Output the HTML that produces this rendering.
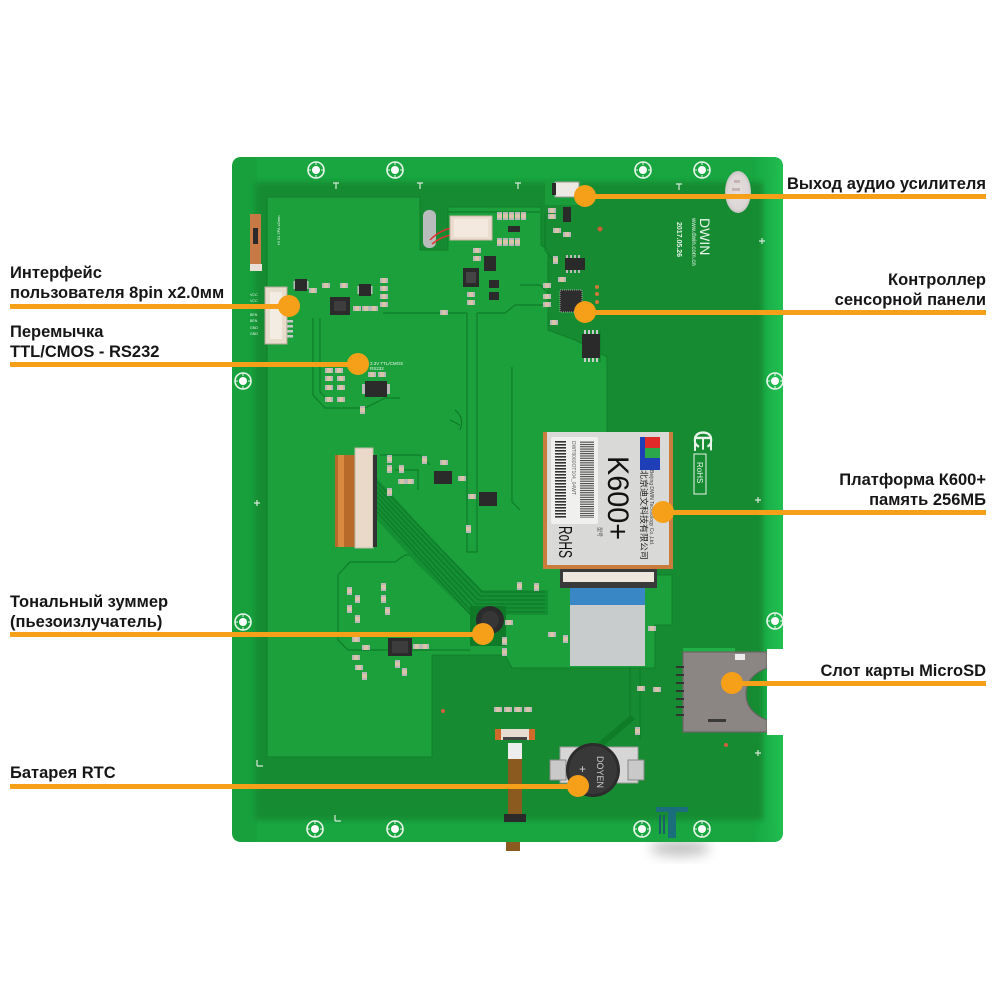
<!DOCTYPE html>
<html><head><meta charset="utf-8"><style>
html,body{margin:0;padding:0;background:#fff}
svg{display:block}
.lbl{font-family:"Liberation Sans",Arial,sans-serif;font-weight:bold;font-size:16.5px;fill:#161616}
.silk{font-family:"Liberation Sans",sans-serif;fill:#e8f4ea}
</style></head><body>
<svg width="1000" height="1000" viewBox="0 0 1000 1000" xmlns="http://www.w3.org/2000/svg">
<defs>
 <filter id="b3" x="-10%" y="-10%" width="120%" height="120%"><feGaussianBlur stdDeviation="3"/></filter>
 <filter id="b6" x="-50%" y="-50%" width="200%" height="200%"><feGaussianBlur stdDeviation="6"/></filter>
 <clipPath id="bc"><path d="M242,157 H773 Q783,157 783,167 V649 H767 V735 H783 V832 Q783,842 773,842 H242 Q232,842 232,832 V167 Q232,157 242,157 Z"/></clipPath>
 <linearGradient id="rg" x1="0" x2="1" y1="0" y2="0"><stop offset="0" stop-color="#18a843"/><stop offset="1" stop-color="#23c455"/></linearGradient>
 <radialGradient id="spk" cx="0.5" cy="0.5" r="0.5"><stop offset="0" stop-color="#e4dede"/><stop offset="0.8" stop-color="#dcd6d6"/><stop offset="1" stop-color="#c9c4c4"/></radialGradient>
 <pattern id="bar" width="4" height="3" patternUnits="userSpaceOnUse"><rect width="4" height="1.6" fill="#333"/></pattern>
 <pattern id="bar2" width="4" height="2.3" patternUnits="userSpaceOnUse"><rect width="4" height="1.1" fill="#444"/></pattern>
 <g id="r"><rect width="5" height="8" fill="#d9c4ab"/><rect width="5" height="2" fill="#b8b8b8"/><rect y="6" width="5" height="2" fill="#b8b8b8"/></g>
 <g id="h"><rect width="8" height="5" fill="#d9c4ab"/><rect width="2" height="5" fill="#b8b8b8"/><rect x="6" width="2" height="5" fill="#b8b8b8"/></g>
 <g id="ic"><rect width="12" height="12" fill="#2a2a2a"/><rect x="-1.5" y="2" width="1.5" height="8" fill="#bbb"/><rect x="12" y="2" width="1.5" height="8" fill="#bbb"/></g>
 <g id="hole"><circle r="8" fill="none" stroke="#eaf6ec" stroke-width="1.6"/><circle r="4" fill="#ffffff"/><path d="M0,-8 V-5 M0,5 V8 M-8,0 H-5 M5,0 H8" stroke="#eaf6ec" stroke-width="1"/></g>
</defs>
<rect width="1000" height="1000" fill="#fff"/>
<ellipse cx="680" cy="848" rx="30" ry="8" fill="#777" opacity="0.45" filter="url(#b6)"/>

<!-- board -->
<path d="M242,157 H773 Q783,157 783,167 V649 H767 V735 H783 V832 Q783,842 773,842 H242 Q232,842 232,832 V167 Q232,157 242,157 Z" fill="#19a640"/>
<g clip-path="url(#bc)">
 <rect x="755" y="150" width="35" height="700" fill="url(#rg)"/>
 <rect x="232" y="150" width="25" height="700" fill="#17a03c"/>
 <rect x="255" y="182" width="508" height="638" fill="#128b31" filter="url(#b3)"/>
 <!-- pour -->
 <path d="M267,197 H420 V250 H448 V207 H541 V245 L548,250 V330 L575,340 L607,357 V575 H672 V625 H655 V668 H512 L505,655 H432 V757 H267 Z" fill="#1ca03c" stroke="#0f7f29" stroke-width="1"/>
 <path d="M545,182 H582 V205 H545 Z" fill="#1a9c3a"/>
 <!-- dark outlines / traces -->
 <g fill="none" stroke="#0f7d28" stroke-width="1.2">
  <path d="M313,318 V395 L325,408 H365 L385,398 H400"/>
  <path d="M320,318 V392 L330,402"/>
  <path d="M448,212 H540"/>
  <path d="M383,313 H467 M477,313 H505 L515,305 H545"/>
  <path d="M467,313 V552 H477 V313"/>
  <path d="M512,367 V502 L520,510"/>
  <path d="M550,210 L545,215 V250 L555,262 M600,330 V362"/>
  <path d="M338,575 L350,562 H395 L405,555 H440 M338,575 V640 L348,650 H470"/>
  <path d="M630,667 V717 L603,742 M640,667 V740"/>
  <path d="M380,455 H420 L430,465 M395,470 H418 V490"/>
  <path d="M520,285 H540 L548,293"/>
 </g>
 <!-- diagonal trace bundle -->
 <path d="M377,478 L433,540 L482,590 H548 V615 H470 L418,565 L377,520 Z" fill="#158f33"/>
 <g stroke="#0e7526" stroke-width="0.9" fill="none">
  <path d="M377,482 L482,592 H545"/><path d="M377,487 L480,596 H545"/><path d="M377,492 L478,600 H545"/>
  <path d="M377,497 L476,604 H545"/><path d="M377,502 L474,608 H545"/><path d="M377,507 L472,612 H545"/>
  <path d="M377,512 L470,614"/>
 </g>
 <!-- left jumper + connector -->
 <rect x="250" y="214" width="11" height="52" fill="#c77a45"/>
 <rect x="253" y="228" width="5" height="16" fill="#2a2a2a"/>
 <rect x="250" y="264" width="12" height="7" fill="#e8e0d8"/>
 <rect x="265" y="287" width="22" height="57" fill="#e8dccd" stroke="#b8a896" stroke-width="1"/>
 <rect x="270" y="292" width="12" height="47" fill="#f2ece3"/>
 <g fill="#c8c8c8"><rect x="287" y="320" width="6" height="2.5"/><rect x="287" y="325" width="6" height="2.5"/><rect x="287" y="330" width="6" height="2.5"/><rect x="287" y="335" width="6" height="2.5"/></g>
 <g class="silk" font-size="3.6"><text x="250" y="296">VCC</text><text x="250" y="302">VCC</text><text x="250" y="309">BOUT</text><text x="250" y="316">BEN</text><text x="250" y="322">BEN</text><text x="250" y="329">GND</text><text x="250" y="335">GND</text></g>
 <text class="silk" font-size="4" transform="translate(280,245) rotate(-90)">Hi 01 2PA x2mm</text>
 <!-- interface area parts -->
 <use href="#ic" x="295" y="279"/>
 <use href="#h" x="309" y="288"/><use href="#h" x="322" y="283"/><use href="#h" x="340" y="283"/>
 <rect x="330" y="297" width="20" height="18" fill="#2b2b2b"/><rect x="334" y="301" width="12" height="10" fill="#3d3d3d"/>
 <use href="#ic" x="359" y="284"/>
 <use href="#h" x="380" y="278"/><use href="#h" x="380" y="286"/><use href="#h" x="380" y="294"/><use href="#h" x="380" y="302"/>
 <use href="#h" x="353" y="306"/><use href="#h" x="362" y="306"/><use href="#h" x="370" y="306"/>
 <!-- jumper area -->
 <use href="#h" x="325" y="368"/><use href="#h" x="335" y="368"/><use href="#h" x="325" y="376"/><use href="#h" x="337" y="376"/>
 <use href="#h" x="325" y="385"/><use href="#h" x="337" y="385"/><use href="#h" x="325" y="397"/><use href="#h" x="337" y="397"/>
 <use href="#h" x="368" y="372"/><use href="#h" x="378" y="372"/>
 <rect x="365" y="381" width="22" height="16" fill="#2b2b2b"/><rect x="362" y="384" width="3" height="10" fill="#bbb"/><rect x="387" y="384" width="3" height="10" fill="#bbb"/>
 <use href="#r" x="360" y="406"/>
 <text class="silk" font-size="4.5" x="370" y="365">3.3V TTL/CMOS</text>
 <text class="silk" font-size="4.5" x="370" y="370">RS232</text>
 <!-- logo mark -->
 <path d="M455,410 q10,8 5,20 M450,420 l10,5" stroke="#0e7a28" stroke-width="1.2" fill="none"/>
 <!-- top middle -->
 <rect x="423" y="210" width="13" height="38" rx="6" fill="#b9bcbd"/>
 <path d="M430,240 q10,-10 22,-12 M432,244 q10,-8 20,-9" stroke="#e03030" stroke-width="1.5" fill="none"/>
 <rect x="450" y="216" width="42" height="24" fill="#ecdccf" stroke="#c9b5a4"/>
 <rect x="454" y="219" width="34" height="18" fill="#f3e9df"/>
 <g><use href="#r" x="497" y="212"/><use href="#r" x="503" y="212"/><use href="#r" x="509" y="212"/><use href="#r" x="515" y="212"/><use href="#r" x="521" y="212"/></g>
 <rect x="508" y="226" width="12" height="6" fill="#2a2a2a"/>
 <g><use href="#r" x="497" y="238"/><use href="#r" x="503" y="238"/><use href="#r" x="509" y="238"/><use href="#r" x="515" y="238"/></g>
 <use href="#h" x="473" y="248"/><use href="#h" x="473" y="256"/>
 <rect x="463" y="268" width="16" height="19" fill="#2a2a2a"/><rect x="466" y="272" width="10" height="11" fill="#444"/>
 <rect x="484" y="256" width="12" height="15" fill="#2a2a2a"/>
 <rect x="489" y="280" width="10" height="8" fill="#2a2a2a"/><rect x="489" y="292" width="10" height="8" fill="#2a2a2a"/>
 <use href="#h" x="467" y="292"/><use href="#h" x="467" y="300"/><use href="#h" x="440" y="310"/>
 <!-- audio / touch area -->
 <rect x="555" y="182" width="24" height="15" fill="#ece8e3" stroke="#999"/>
 <rect x="552" y="183" width="4" height="12" fill="#2a2a2a"/>
 <use href="#h" x="548" y="208"/><use href="#h" x="548" y="214"/><rect x="563" y="207" width="8" height="15" fill="#2a2a2a"/>
 <use href="#h" x="553" y="228"/><use href="#h" x="563" y="232"/>
 <use href="#r" x="553" y="256"/>
 <rect x="565" y="258" width="20" height="12" fill="#2a2a2a"/>
 <g fill="#bbb"><rect x="566" y="255" width="2" height="3"/><rect x="570" y="255" width="2" height="3"/><rect x="574" y="255" width="2" height="3"/><rect x="578" y="255" width="2" height="3"/><rect x="566" y="270" width="2" height="3"/><rect x="570" y="270" width="2" height="3"/><rect x="574" y="270" width="2" height="3"/><rect x="578" y="270" width="2" height="3"/></g>
 <use href="#h" x="558" y="277"/><use href="#h" x="543" y="283"/>
 <use href="#h" x="543" y="294"/><use href="#h" x="543" y="302"/>
 <rect x="560" y="290" width="22" height="22" fill="#2d2d2d" stroke="#aaa" stroke-width="1" stroke-dasharray="1 1"/>
 <circle cx="597" cy="287" r="2" fill="#d07a3a"/><circle cx="597" cy="294" r="2" fill="#d07a3a"/><circle cx="597" cy="302" r="2" fill="#d07a3a"/>
 <use href="#h" x="550" y="320"/>
 <rect x="582" y="334" width="18" height="24" fill="#2a2a2a"/>
 <g fill="#ccc"><rect x="584" y="358" width="2" height="4"/><rect x="588" y="358" width="2" height="4"/><rect x="592" y="358" width="2" height="4"/><rect x="596" y="358" width="2" height="4"/><rect x="584" y="330" width="2" height="4"/><rect x="588" y="330" width="2" height="4"/><rect x="592" y="330" width="2" height="4"/><rect x="596" y="330" width="2" height="4"/></g>
 <circle cx="600" cy="229" r="2.5" fill="#c8602f"/>
 <!-- right side silk -->
 <ellipse cx="738" cy="192" rx="13" ry="21" fill="url(#spk)"/>
 <g fill="#b59a9a" opacity="0.6"><rect x="734" y="180" width="6" height="3"/><rect x="732" y="188" width="8" height="3"/><rect x="735" y="196" width="6" height="3"/></g>
 <text class="silk" font-size="14" transform="translate(700,218) rotate(90)">DWIN</text>
 <text class="silk" font-size="6" transform="translate(692,218) rotate(90)">www.dwin.com.cn</text>
 <text class="silk" font-size="7" font-weight="bold" transform="translate(677,222) rotate(90)">2017.05.26</text>
 <text class="silk" font-size="26" textLength="22" transform="translate(694,430) rotate(90)">CE</text>
 <rect x="694" y="454" width="12" height="40" fill="none" stroke="#e8f4ea" stroke-width="1"/>
 <text class="silk" font-size="8" transform="translate(697,462) rotate(90)">RoHS</text>
 <!-- left FPC -->
 <rect x="335" y="455" width="22" height="92" fill="#b86a2a"/>
 <rect x="338" y="455" width="6" height="92" fill="#d98a40"/>
 <rect x="355" y="448" width="18" height="100" fill="#ead9c8" stroke="#bba"/>
 <rect x="373" y="455" width="4" height="92" fill="#333"/>
 <!-- parts near FPC -->
 <use href="#r" x="387" y="455"/><use href="#r" x="387" y="465"/><use href="#r" x="399" y="465"/>
 <use href="#h" x="398" y="479"/><use href="#h" x="406" y="479"/><use href="#r" x="387" y="488"/><use href="#r" x="422" y="456"/>
 <rect x="434" y="471" width="18" height="13" fill="#2a2a2a"/><use href="#h" x="440" y="460"/><use href="#h" x="458" y="476"/>
 <rect x="479" y="492" width="18" height="14" fill="#2a2a2a"/><use href="#h" x="468" y="494"/><use href="#r" x="466" y="525"/>
 <!-- buzzer area -->
 <use href="#r" x="347" y="587"/><use href="#r" x="355" y="595"/><use href="#r" x="347" y="605"/><use href="#r" x="355" y="615"/>
 <use href="#r" x="381" y="583"/><use href="#r" x="381" y="595"/><use href="#r" x="385" y="607"/>
 <use href="#h" x="352" y="637"/><use href="#h" x="362" y="645"/><use href="#h" x="352" y="655"/><use href="#h" x="355" y="665"/>
 <rect x="388" y="638" width="24" height="18" fill="#2a2a2a"/><rect x="392" y="641" width="16" height="12" fill="#3c3c3c"/>
 <use href="#h" x="413" y="644"/><use href="#h" x="421" y="644"/>
 <use href="#r" x="395" y="660"/><use href="#r" x="402" y="668"/><use href="#r" x="362" y="672"/>
 <rect x="470" y="606" width="36" height="40" fill="#0f7a28"/>
 <circle cx="490" cy="620" r="14" fill="#2b2b2b"/><circle cx="490" cy="620" r="9" fill="#363636"/>
 <use href="#h" x="505" y="620"/><use href="#r" x="502" y="637"/><use href="#r" x="502" y="648"/>
 <use href="#r" x="517" y="582"/><use href="#r" x="534" y="583"/>
 <!-- ribbon / FPC to module -->
 <rect x="560" y="569" width="97" height="19" fill="#3a3a3a"/>
 <rect x="563" y="572" width="91" height="10" fill="#efe6dc"/>
 <rect x="570" y="588" width="75" height="17" fill="#3a87c6"/>
 <rect x="570" y="605" width="75" height="61" fill="#c9cccc"/>
 <use href="#h" x="548" y="632"/><use href="#r" x="563" y="635"/><use href="#h" x="648" y="626"/>
 <use href="#h" x="637" y="686"/><use href="#h" x="653" y="687"/><use href="#r" x="635" y="727"/>
 <path d="M633,717 L600,745" stroke="#0f7d28" stroke-width="6"/>
 <!-- K600 module -->
 <rect x="543" y="432" width="130" height="137" fill="#c97c3c"/>
 <rect x="547" y="432" width="122" height="133" fill="#d9d9d7"/>
 <rect x="551" y="437" width="47" height="87" rx="2" fill="#f0f0ee"/>
 <rect x="555" y="441" width="11" height="77" fill="url(#bar)"/>
 <rect x="580" y="441" width="14" height="77" fill="url(#bar2)"/>
 <text font-family="Liberation Sans,sans-serif" font-size="5" fill="#666" transform="translate(572,441) rotate(90)">DWT8060OT104_04WT</text>
 <text font-family="Liberation Sans,sans-serif" font-size="30" fill="#111" textLength="84" lengthAdjust="spacingAndGlyphs" transform="translate(608,456) rotate(90)">K600+</text>
 <text font-family="Liberation Sans,sans-serif" font-size="18" fill="#111" textLength="32" lengthAdjust="spacingAndGlyphs" transform="translate(559,526) rotate(90)">RoHS</text>
 <rect x="640" y="437" width="20" height="33" fill="#1e3fb8"/>
 <rect x="645" y="437" width="15" height="11" fill="#e02a2a"/><rect x="645" y="448" width="15" height="10" fill="#2aa84a"/>
 <text font-family="Liberation Sans,'Noto Sans CJK SC',sans-serif" font-size="8.5" fill="#222" textLength="90" lengthAdjust="spacingAndGlyphs" transform="translate(641,470) rotate(90)">北京迪文科技有限公司</text>
 <text font-family="Liberation Sans,sans-serif" font-size="5" fill="#444" transform="translate(650,470) rotate(90)">Beijing DWIN Technology Co.,Ltd.</text>
 <text font-family="Liberation Sans,'Noto Sans CJK SC',sans-serif" font-size="5" fill="#444" transform="translate(598,527) rotate(90)">型号</text>
 <!-- SD card slot -->
 <rect x="683" y="648" width="52" height="5" fill="#1fb047"/>
 <path d="M683,652 H767 V668 Q746,676 746,694 Q746,712 767,720 V732 H683 Z" fill="#8b8683" stroke="#6a6663" stroke-width="1.2"/>
 <rect x="735" y="654" width="10" height="6" fill="#ececec"/>
 <rect x="708" y="719" width="18" height="3" fill="#3a3a3a"/>
 <g fill="#333"><rect x="676" y="666" width="8" height="2"/><rect x="676" y="674" width="8" height="2"/><rect x="676" y="682" width="8" height="2"/><rect x="676" y="690" width="8" height="2"/><rect x="676" y="698" width="8" height="2"/><rect x="676" y="706" width="8" height="2"/><rect x="676" y="714" width="8" height="2"/></g>
 <!-- bottom small connector + flex -->
 <g><use href="#h" x="494" y="707"/><use href="#h" x="504" y="707"/><use href="#h" x="514" y="707"/><use href="#h" x="524" y="707"/></g>
 <rect x="495" y="729" width="40" height="11" fill="#e8ddd2"/><rect x="495" y="729" width="6" height="11" fill="#d06a2a"/><rect x="529" y="729" width="6" height="11" fill="#d06a2a"/>
 <rect x="503" y="737" width="24" height="3" fill="#444"/>
 <rect x="508" y="743" width="14" height="16" fill="#ededed"/>
 <rect x="508" y="759" width="14" height="56" fill="#8a5a1e"/>
 <rect x="504" y="814" width="22" height="8" fill="#2a2a2a"/>
 <!-- battery -->
 <path d="M594,748 V762" stroke="#0f7d28" stroke-width="1"/>
 <rect x="560" y="747" width="78" height="36" fill="#d6d6d6" stroke="#999"/>
 <rect x="550" y="760" width="16" height="20" fill="#c9c9c9" stroke="#888"/>
 <rect x="628" y="760" width="16" height="20" fill="#c9c9c9" stroke="#888"/>
 <circle cx="593" cy="770" r="27" fill="#2c2c2c"/>
 <circle cx="593" cy="770" r="24" fill="#383838"/>
 <text font-family="Liberation Sans,sans-serif" font-size="9" fill="#ccc" transform="translate(597,756) rotate(90)">DOYEN</text>
 <text font-family="Liberation Sans,sans-serif" font-size="12" fill="#ccc" x="579" y="773">+</text>
 <!-- teal logo -->
 <path d="M656,807 H688 V812 H676 V838 H668 V812 H656 Z" fill="#1b6f7d"/>
 <path d="M660,815 V834 M664,815 V834" stroke="#1b5f6a" stroke-width="2"/>
 <circle cx="726" cy="745" r="2" fill="#d0603a"/><circle cx="443" cy="711" r="2" fill="#d0603a"/>
 <!-- mount holes -->
 <use href="#hole" x="316" y="170"/><use href="#hole" x="395" y="170"/><use href="#hole" x="643" y="170"/><use href="#hole" x="702" y="170"/>
 <use href="#hole" x="243" y="381"/><use href="#hole" x="243" y="622"/>
 <use href="#hole" x="315" y="829"/><use href="#hole" x="395" y="829"/><use href="#hole" x="642" y="829"/><use href="#hole" x="702" y="829"/>
 <use href="#hole" x="775" y="381"/><use href="#hole" x="775" y="621"/>
 <!-- fiducial T marks -->
 <g stroke="#d8e8da" stroke-width="1.2" fill="none">
  <path d="M333,183 h6 M336,183 v6"/><path d="M417,183 h6 M420,183 v6"/><path d="M515,183 h6 M518,183 v6"/><path d="M676,184 h6 M679,184 v6"/>
  <path d="M762,238 v6 M759,241 h6"/><path d="M257,500 v6 M254,503 h6"/><path d="M257,760 v6 M257,766 h6"/><path d="M335,815 v6 M335,821 h6"/><path d="M758,750 v6 M755,753 h6"/><path d="M758,497 v6 M755,500 h6"/>
 </g>
</g>
<rect x="506" y="842" width="14" height="9" fill="#8a5a1e"/>

<!-- callout lines -->
<g fill="#f6a01a">
 <rect x="585" y="194" width="401" height="5"/><circle cx="585" cy="196" r="11"/>
 <rect x="585" y="310" width="401" height="5"/><circle cx="585" cy="312" r="11"/>
 <rect x="663" y="510" width="323" height="5"/><circle cx="663" cy="512" r="11"/>
 <rect x="732" y="681" width="254" height="5"/><circle cx="732" cy="683" r="11"/>
 <rect x="10" y="304" width="279" height="5"/><circle cx="289" cy="306" r="11"/>
 <rect x="10" y="362" width="348" height="5"/><circle cx="358" cy="364" r="11"/>
 <rect x="10" y="632" width="473" height="5"/><circle cx="483" cy="634" r="11"/>
 <rect x="10" y="784" width="568" height="5"/><circle cx="578" cy="786" r="11"/>
</g>

<!-- labels -->
<g class="lbl">
 <text x="10" y="278">Интерфейс</text>
 <text x="10" y="298">пользователя 8pin x2.0мм</text>
 <text x="10" y="337">Перемычка</text>
 <text x="10" y="357">TTL/CMOS - RS232</text>
 <text x="10" y="607">Тональный зуммер</text>
 <text x="10" y="627">(пьезоизлучатель)</text>
 <text x="10" y="778">Батарея RTC</text>
</g>
<g class="lbl" text-anchor="end">
 <text x="986" y="189">Выход аудио усилителя</text>
 <text x="986" y="285">Контроллер</text>
 <text x="986" y="305">сенсорной панели</text>
 <text x="986" y="485">Платформа К600+</text>
 <text x="986" y="505">память 256МБ</text>
 <text x="986" y="676">Слот карты MicroSD</text>
</g>
</svg>
</body></html>
